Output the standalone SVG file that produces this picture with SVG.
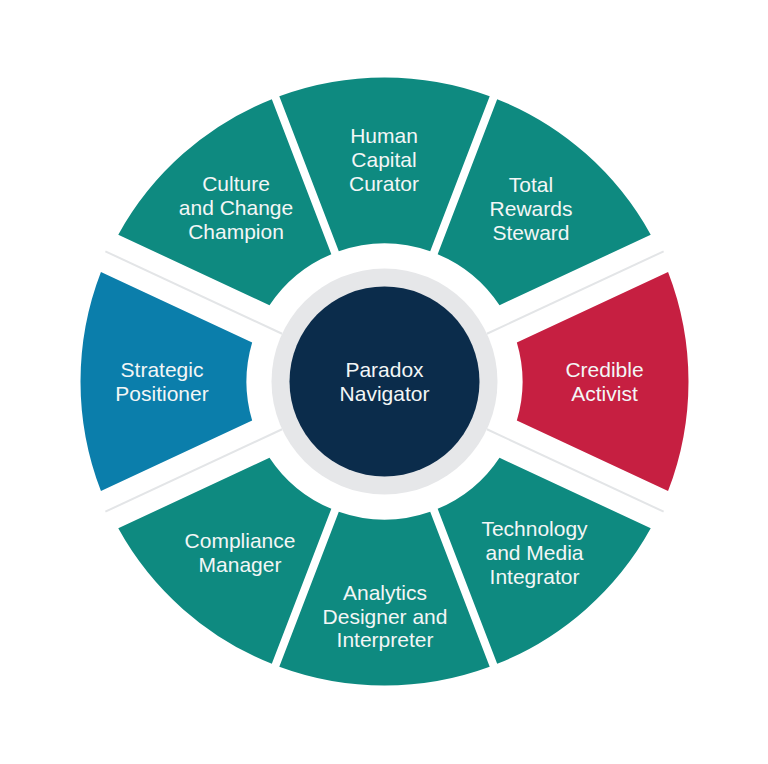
<svg xmlns="http://www.w3.org/2000/svg" width="768" height="764" viewBox="0 0 768 764">
  <style>
    .teal { fill: #0e8a80; }
    .blue { fill: #0b7eab; }
    .red { fill: #c61f41; }
    .lbl { font-family: "Liberation Sans", Arial, sans-serif; font-size: 21px; fill: #f3f6f6; text-anchor: middle; }
    .sep { stroke: #e3e5e7; stroke-width: 2; fill: none; }
  </style>
  <rect width="768" height="764" fill="#ffffff"/>
  <g id="connectors">
    <line class="sep" x1="486.913" y1="333.744" x2="663.643" y2="251.334"/>
    <line class="sep" x1="486.913" y1="429.256" x2="663.643" y2="511.666"/>
    <line class="sep" x1="282.087" y1="429.256" x2="105.357" y2="511.666"/>
    <line class="sep" x1="282.087" y1="333.744" x2="105.357" y2="251.334"/>
  </g>
  <g id="human-capital-curator">
    <path class="teal" d="M 338.801,251.288 L 279.299,96.282 A 304 304 0 0 1 489.701,96.282 L 430.199,251.288 A 138 138 0 0 0 338.801,251.288 Z"/>
    <text class="lbl" x="384" y="143">Human</text>
    <text class="lbl" x="384" y="167">Capital</text>
    <text class="lbl" x="384" y="191">Curator</text>
  </g>
  <g id="total-rewards-steward">
    <path class="teal" d="M 437.667,254.154 L 497.169,99.148 A 304 304 0 0 1 650.723,234.737 L 499.518,305.246 A 138 138 0 0 0 437.667,254.154 Z"/>
    <text class="lbl" x="531" y="191.5">Total</text>
    <text class="lbl" x="531" y="215.5">Rewards</text>
    <text class="lbl" x="531" y="239.5">Steward</text>
  </g>
  <g id="credible-activist">
    <path class="red" d="M 516.846,342.404 L 668.051,271.895 A 304 304 0 0 1 668.051,491.105 L 516.846,420.596 A 138 138 0 0 0 516.846,342.404 Z"/>
    <text class="lbl" x="604.5" y="377">Credible</text>
    <text class="lbl" x="604.5" y="401">Activist</text>
  </g>
  <g id="technology-and-media-integrator">
    <path class="teal" d="M 499.518,457.754 L 650.723,528.263 A 304 304 0 0 1 497.169,663.852 L 437.667,508.846 A 138 138 0 0 0 499.518,457.754 Z"/>
    <text class="lbl" x="534.5" y="536">Technology</text>
    <text class="lbl" x="534.5" y="560">and Media</text>
    <text class="lbl" x="534.5" y="584">Integrator</text>
  </g>
  <g id="analytics-designer-and-interpreter">
    <path class="teal" d="M 430.199,511.712 L 489.701,666.718 A 304 304 0 0 1 279.299,666.718 L 338.801,511.712 A 138 138 0 0 0 430.199,511.712 Z"/>
    <text class="lbl" x="385" y="599.5">Analytics</text>
    <text class="lbl" x="385" y="623.5">Designer and</text>
    <text class="lbl" x="385" y="647">Interpreter</text>
  </g>
  <g id="compliance-manager">
    <path class="teal" d="M 331.333,508.846 L 271.831,663.852 A 304 304 0 0 1 118.277,528.263 L 269.482,457.754 A 138 138 0 0 0 331.333,508.846 Z"/>
    <text class="lbl" x="240" y="548">Compliance</text>
    <text class="lbl" x="240" y="572">Manager</text>
  </g>
  <g id="strategic-positioner">
    <path class="blue" d="M 252.154,420.596 L 100.949,491.105 A 304 304 0 0 1 100.949,271.895 L 252.154,342.404 A 138 138 0 0 0 252.154,420.596 Z"/>
    <text class="lbl" x="162" y="377">Strategic</text>
    <text class="lbl" x="162" y="401">Positioner</text>
  </g>
  <g id="culture-and-change-champion">
    <path class="teal" d="M 269.482,305.246 L 118.277,234.737 A 304 304 0 0 1 271.831,99.148 L 331.333,254.154 A 138 138 0 0 0 269.482,305.246 Z"/>
    <text class="lbl" x="236" y="191">Culture</text>
    <text class="lbl" x="236" y="215">and Change</text>
    <text class="lbl" x="236" y="239">Champion</text>
  </g>
  <g id="paradox-navigator">
    <circle cx="384.5" cy="381.5" r="113" fill="#e6e7e9"/>
    <circle cx="384.5" cy="381.5" r="95" fill="#0b2c4b"/>
    <text class="lbl" x="384.5" y="377">Paradox</text>
    <text class="lbl" x="384.5" y="401">Navigator</text>
  </g>
</svg>
